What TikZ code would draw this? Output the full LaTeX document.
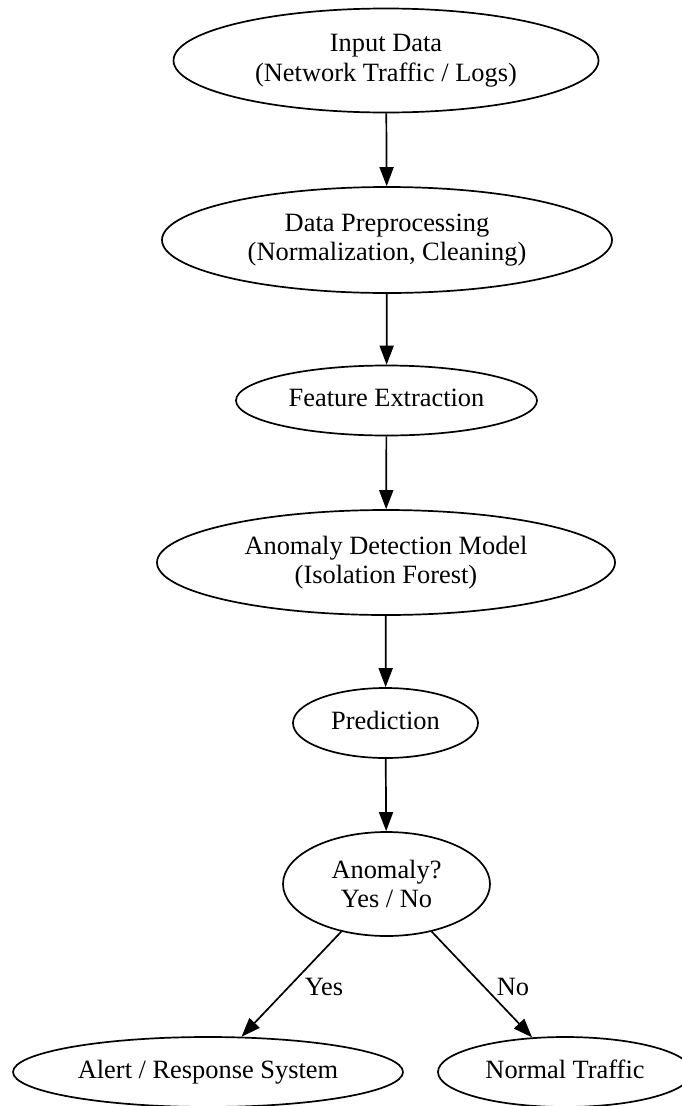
\documentclass[tikz,border=0pt]{standalone}
\usepackage{fontspec}
\setmainfont{Liberation Serif}
\usetikzlibrary{shapes.geometric,arrows.meta}
\begin{document}
\begin{tikzpicture}[x=1pt,y=-1pt,
  ell/.style={ellipse,draw,line width=1.7pt,inner sep=0pt,align=center,
    font=\fontsize{26.4}{29.5}\selectfont},
  one/.style={text height=18pt,text depth=6pt},
  conn/.style={line width=1.7pt,-{Triangle[length=19pt,width=14pt]}},
  lbl/.style={font=\fontsize{26.4}{29.5}\selectfont,inner sep=0pt}]
\useasboundingbox[fill=white] (0,0) rectangle (682,1106);
\node[ell,minimum width=425pt,minimum height=104pt] (input) at (386,60.5) {Input Data\\(Network Traffic / Logs)};
\node[ell,minimum width=450pt,minimum height=106pt] (prep) at (387,240) {Data Preprocessing\\(Normalization, Cleaning)};
\node[ell,one,minimum width=301pt,minimum height=70pt] (feat) at (386.5,400.5) {Feature Extraction};
\node[ell,minimum width=458pt,minimum height=105pt] (model) at (386,562.5) {Anomaly Detection Model\\(Isolation Forest)};
\node[ell,one,minimum width=185pt,minimum height=70pt] (pred) at (385.5,723) {Prediction};
\node[ell,minimum width=207pt,minimum height=104pt] (anom) at (386.5,884) {Anomaly?\\Yes / No};
\node[ell,one,minimum width=390pt,minimum height=70pt] (alert) at (208,1072) {Alert / Response System};
\node[ell,one,minimum width=254pt,minimum height=70pt] (normal) at (565,1072) {Normal Traffic};
\draw[conn] (input) -- (prep);
\draw[conn] (prep) -- (feat);
\draw[conn] (feat) -- (model);
\draw[conn] (model) -- (pred);
\draw[conn] (pred) -- (anom);
\draw[conn] (anom) -- (alert);
\draw[conn] (anom) -- (normal);
\node[lbl] (yes) at (324,987) {Yes};
\node[lbl] (no) at (513,987) {No};
\end{tikzpicture}
\end{document}
